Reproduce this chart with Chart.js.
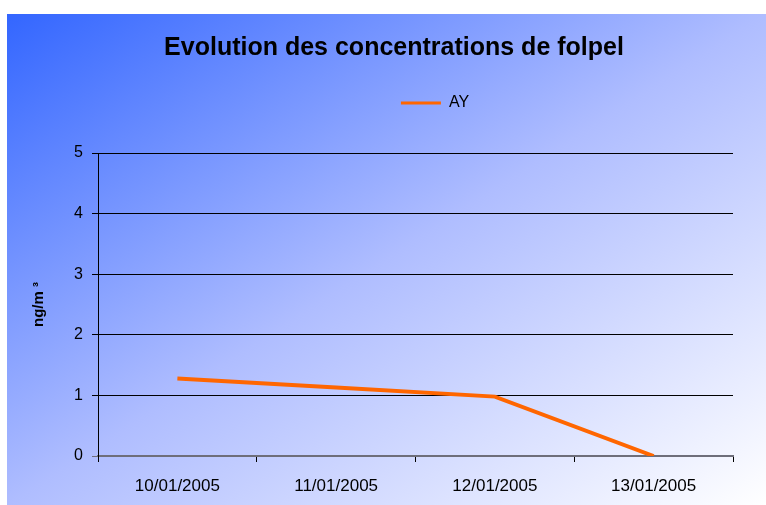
<!DOCTYPE html>
<html>
<head>
<meta charset="utf-8">
<script src="https://cdn.jsdelivr.net/npm/chart.js@4/dist/chart.umd.min.js"></script>
<style>
  html, body { margin: 0; padding: 0; background: #ffffff; }
  #wrap { width: 766px; height: 505px; position: relative; }
</style>
</head>
<body>
<div id="wrap"><canvas id="c" width="766" height="505"></canvas></div>
<script>
const chartTitle = 'Evolution des concentrations de folpel';
const categories = ['10/01/2005', '11/01/2005', '12/01/2005', '13/01/2005'];
const seriesName = 'AY';
const seriesValues = [1.28, 1.13, 0.98, 0];
const yTicks = [0, 1, 2, 3, 4, 5];
const yAxisLabel = 'ng/m ³';

const FONT = "'Liberation Sans', Arial, Helvetica, sans-serif";
const ORANGE = '#FF6600';

const bgPlugin = {
  id: 'bgGradient',
  beforeDraw(chart) {
    const ctx = chart.ctx;
    const W = chart.width, H = chart.height;
    ctx.save();
    ctx.fillStyle = '#ffffff';
    ctx.fillRect(0, 0, W, H);
    const x0 = 7, y0 = 14, w = W - x0, h = H - y0;
    const k = 2 * w * h / (w * w + h * h);
    const g = ctx.createLinearGradient(x0, y0, x0 + h * k, y0 + w * k);
    g.addColorStop(0, '#3366FF');
    g.addColorStop(0.5, '#AFBDFF');
    g.addColorStop(1, '#FFFFFF');
    ctx.fillStyle = g;
    ctx.fillRect(x0, y0, w, h);
    ctx.restore();
  }
};

const placePlugin = {
  id: 'placeBoxes',
  afterLayout(chart) {
    const t = chart.titleBlock;
    if (t) {
      const d = 394 - (t.left + t.right) / 2;
      t.left += d; t.right += d;
    }
    const l = chart.legend;
    if (l) {
      const d = 435 - (l.left + l.right) / 2;
      l.left += d; l.right += d;
      const dy = 85 - l.top;
      l.top += dy; l.bottom += dy;
    }
  }
};

new Chart(document.getElementById('c'), {
  type: 'line',
  data: {
    labels: categories,
    datasets: [{
      label: seriesName,
      data: seriesValues,
      borderColor: ORANGE,
      backgroundColor: ORANGE,
      borderWidth: 4,
      pointRadius: 0,
      pointHoverRadius: 0,
      tension: 0,
      fill: false
    }]
  },
  options: {
    responsive: false,
    animation: false,
    devicePixelRatio: 1,
    layout: { padding: { top: 14, left: 0, right: 33, bottom: 0 } },
    plugins: {
      tooltip: { enabled: false },
      title: {
        display: true,
        text: chartTitle,
        color: '#000000',
        font: { family: FONT, size: 25, weight: 'bold', lineHeight: 1.2 },
        padding: { top: 19, bottom: 54 }
      },
      legend: {
        display: true,
        position: 'top',
        labels: {
          color: '#000000',
          font: { family: FONT, size: 16 },
          usePointStyle: true,
          pointStyleWidth: 40,
          padding: 10,
          generateLabels(chart) {
            return chart.data.datasets.map((ds, i) => ({
              text: ds.label,
              fillStyle: ds.borderColor,
              strokeStyle: ds.borderColor,
              lineWidth: 3,
              pointStyle: 'line',
              hidden: false,
              datasetIndex: i
            }));
          }
        }
      }
    },
    scales: {
      x: {
        type: 'category',
        offset: true,
        afterFit(scale) { scale.height = 49; },
        grid: {
          offset: true,
          drawOnChartArea: false,
          drawTicks: true,
          tickLength: 6,
          tickColor: '#000000',
          color: '#000000'
        },
        border: { display: true, color: '#6E6E7A', width: 2 },
        ticks: {
          color: '#000000',
          font: { family: FONT, size: 17 },
          padding: 14,
          maxRotation: 0,
          autoSkip: false
        }
      },
      y: {
        min: 0,
        max: 5,
        afterFit(scale) { scale.width = 98; },
        afterBuildTicks(scale) { scale.ticks = yTicks.map(v => ({ value: v })); },
        grid: {
          drawTicks: true,
          tickLength: 6,
          color: (c) => (c.tick && c.tick.value === 0) ? 'rgba(0,0,0,0)' : '#000000',
          tickColor: (c) => (c.tick && c.tick.value === 0) ? '#6E6E7A' : '#000000',
          lineWidth: 1
        },
        border: { display: true, color: '#000000', width: 1 },
        ticks: {
          color: '#000000',
          font: { family: FONT, size: 16 },
          padding: 9,
          stepSize: 1
        },
        title: {
          display: true,
          text: yAxisLabel,
          color: '#000000',
          font: { family: FONT, size: 15, weight: 'bold' },
          padding: { top: 30, bottom: 0 }
        }
      }
    }
  },
  plugins: [bgPlugin, placePlugin]
});
</script>
</body>
</html>
